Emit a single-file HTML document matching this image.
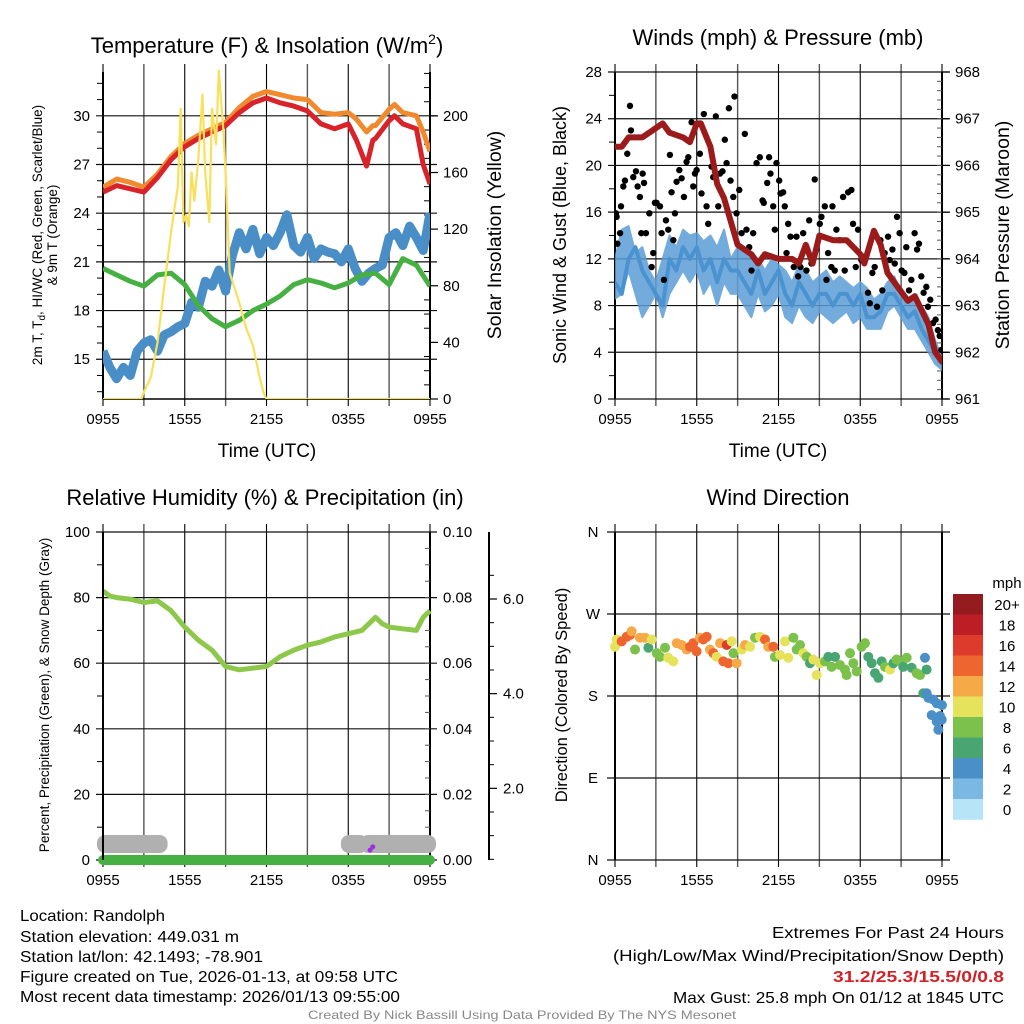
<!DOCTYPE html>
<html><head><meta charset="utf-8">
<style>
html,body{margin:0;padding:0;background:#fff;}
svg{display:block;font-family:"Liberation Sans",Arial,sans-serif;}
</style></head>
<body>
<svg id="root" width="1024" height="1024" viewBox="0 0 1024 1024" xmlns="http://www.w3.org/2000/svg"></svg>
<script>
// ---------- DATA ----------
const xTickLabels = ["0955","1555","2155","0355","0955"];
// Temperature panel
const tHalf = [];for(let i=0;i<=48;i++)tHalf.push(i/2);
const tHour = [];for(let i=0;i<=24;i++)tHour.push(i);
const redT = [0,1,2,3,4,5,6,7,8,9,10,11,12,13,14,15,16,17,18,18.6,19.35,19.8,20,21,21.4,22,23,23.5,24];
const temp2m = [25.3,25.7,25.5,25.3,26.2,27.3,28.1,28.6,29.0,29.4,30.2,30.8,31.1,30.8,30.6,30.3,29.5,29.2,29.5,28.5,26.9,28.5,28.6,29.7,30.0,29.5,29.2,27.0,25.8];
const temp9m = [25.6,26.1,25.9,25.6,26.4,27.5,28.3,28.8,29.2,29.6,30.5,31.2,31.5,31.3,31.1,31.0,30.2,30.1,30.2,29.8,29.0,29.4,29.4,30.4,30.7,30.2,30.0,29.0,27.8];
const dewpoint = [20.6,20.2,19.8,19.5,20.2,20.3,19.6,18.3,17.5,17.0,17.4,18.0,18.4,18.9,19.6,19.9,19.7,19.4,19.7,20.2,20.3,19.6,21.2,20.8,19.5];
const windChill = [15.5,14.5,13.8,14.5,14.0,15.5,16.0,16.2,15.5,16.5,16.7,17.0,17.2,18.5,18.2,19.8,19.5,20.5,19.2,21.4,22.8,21.8,23.0,21.5,22.5,22.0,22.8,23.9,22.0,21.6,22.5,21.2,21.8,21.6,21.5,21.0,21.8,20.6,19.8,20.3,20.6,20.8,22.5,22.8,22.0,23.2,22.5,21.7,24.0];
const solarT = [0,2.8,3,3.5,4,4.5,5,5.3,5.5,5.7,5.9,6.1,6.3,6.5,6.7,7.0,7.3,7.5,7.8,8.0,8.3,8.5,8.8,9.0,9.3,10,10.5,11,11.5,11.8,12,24];
const solarV = [0,0,5,15,40,80,118,138,150,205,125,130,122,160,140,170,215,160,125,205,180,232,195,160,89,68,50,38,15,4,0,0];
// Winds panel
const sonicWind = [10,9,12,13,11,10,9,8,12,11,13,12,13,11,12,10,12,11,11,10,9,11,9,10,11,9,8,10,9,8,9,9,8,9,9,8,9,7,7,7.5,9,9,8,7,7.5,6,5,4,3];
const sonicLow  = [8.6,9,11,9,7,8,9,7,9,10,11,10,11,9,10,8,10,9,9,8,7,9,7.5,8,9,7,6.5,8,7,6.5,7.5,7,6.5,7,7.5,6.5,7,6,6,6,7.5,8,7,6,6,5,4,3,2.5];
const sonicHigh = [12,14.5,14.8,12.5,13,11,10,12,14,13,14.5,14,14.2,13.5,14,13,14.5,12,13,13,12,12,11,12,11.5,11,10,11.5,11,10,10.5,11,10,10.5,10,9.5,10,9.5,8.5,9,10,10.5,9,8,9,8,7,5,3.5];
const pressT = [0,0.5,1,2,3,3.5,4,5,5.5,6,6.3,7,7.5,8,8.5,9,10,10.5,11,12,13,13.5,14,14.5,15,16,17,18,18.3,19,19.5,20,21,21.5,22,22.5,23,23.5,24];
const pressV = [966.4,966.4,966.6,966.6,966.8,966.9,966.7,966.6,966.5,966.9,966.9,966.4,965.6,965.3,964.8,964.3,964.1,963.9,964.1,964.0,964.0,963.9,964.3,963.9,964.5,964.4,964.4,964.1,963.9,964.6,964.3,963.7,963.3,963.1,963.2,962.9,962.6,962.0,961.8];
const gustT = [0.07,0.12,0.17,0.37,0.44,0.61,0.73,0.9,1.1,1.17,1.34,1.54,1.66,1.83,2.03,2.13,1.93,2.27,2.52,2.69,2.81,2.93,3.05,3.3,3.42,3.59,3.74,3.91,4.03,4.15,4.28,4.4,4.52,4.72,4.89,5.06,5.25,5.38,5.62,5.74,5.87,5.99,6.23,6.35,6.52,6.72,6.84,7.09,7.21,7.4,7.58,7.7,7.89,8.06,8.19,8.36,8.48,8.68,8.77,8.92,9.12,9.29,9.53,9.65,9.85,10.02,10.14,10.39,10.63,10.83,10.92,11.17,11.31,11.41,11.61,11.73,11.85,12.05,12.15,12.34,12.46,12.59,12.71,12.88,13.12,13.32,13.44,13.61,13.81,14.05,14.25,14.42,14.66,14.79,15.03,15.15,15.4,15.52,15.64,15.88,15.96,16.13,16.25,16.5,16.74,16.86,17.11,17.35,17.47,17.67,17.84,18.08,18.33,18.57,18.7,18.89,19.06,19.23,19.48,19.62,19.79,20.04,20.16,20.36,20.53,20.7,20.89,21.04,21.24,21.38,21.58,21.75,21.99,22.17,22.31,22.48,22.65,22.85,22.97,23.14,23.34,23.53,23.7,23.83,23.95];
const gustV = [15.9,15.6,13.3,14.2,16.5,18.2,18.7,21,25.1,23,19,19.5,18.2,17.3,19.3,18.5,14.2,14.2,15.9,11.3,12.5,16.8,16.8,16.5,14.2,10.2,15.3,14.5,20.9,17.7,13.6,15.9,18.6,19.6,18.9,17.3,20.3,20.7,23.7,18.2,19.3,19.6,21,17.6,24.4,16.5,15,19.9,19,24.2,16.5,19.3,19.5,22.2,20.2,24.9,18.7,17.3,25.9,15.9,17.9,14.2,22.7,14.5,13,11,14.2,20.2,20.7,17,16.8,18.5,20.7,19.3,16.5,14.5,20.2,18.7,17.6,17.7,16.5,12.5,15,13.9,11.3,13.9,10.5,11.3,14.2,11,15.3,11.6,18.8,12.8,15,15.6,16.5,10.2,12.5,11.3,16.5,11,14.5,13.6,17.3,11,17.7,17.9,15,11.3,14.5,11.9,12.2,9.1,8.2,10.8,11.3,7.9,13.6,9.3,12.5,13.9,11.9,12.8,11.6,15.6,14.2,11,10.8,13,9.3,10.2,14.2,12.8,13.3,10.5,9.1,9.6,7.9,8.5,6.5,6.8,5.9,5.4,4.2];
// RH panel
const rhT = [0,0.5,1,2,3,4,5,6,7,8,9,10,11,12,13,14,15,16,17,18,19,20,20.5,21,22,23,23.5,24];
const rhV = [82,80.5,80,79.5,78.5,79,76,71,67,64,59,58,58.5,59,62,64,65.5,66.5,68,69,70,74,72,71,70.5,70,74,76];
const snowSegStart = [0,17.9,19.3];
const snowSegEnd = [4.3,19.0,24];
const precipT = [19.6,19.8];
const precipV = [0.003,0.004];
// Wind direction panel
const dirT = [0,0.12,0.49,0.86,1.1,1.22,1.47,1.83,2.2,2.45,2.69,3.06,3.3,3.67,3.91,4.28,4.53,4.89,5.26,5.5,5.75,5.99,6.24,6.48,6.73,6.97,7.22,7.46,7.71,7.95,8.2,8.32,8.56,8.69,8.93,9.3,9.54,9.91,10.28,10.64,11.01,11.25,11.62,11.74,12.11,12.48,12.72,13.09,13.33,13.58,13.82,14.07,14.31,14.56,14.8,15.05,15.41,15.66,15.9,16.15,16.51,16.88,17.0,17.25,17.49,17.74,18.1,18.35,18.59,18.84,19.08,19.33,19.57,19.82,20.18,20.43,20.67,20.92,21.16,21.41,21.77,22.14,22.39,22.75,22.87,22.63,22.87,23.0,23.36,23.61,23.24,23.85,23.61,23.73,24,23.98];
const dirV = [234,242,240,245,247,251,231,244,244,233,242,227,223,233,222,218,238,236,231,234,238,229,244,242,245,231,227,223,238,218,236,216,240,227,216,231,236,234,244,245,242,234,234,223,225,240,222,244,231,236,227,223,216,220,203,216,218,223,212,223,214,209,203,227,216,207,234,238,223,216,205,200,218,212,209,216,220,218,212,222,211,205,203,222,209,183,183,178,176,172,159,158,152,143,170,154];
const dirSpd = [10,10,14,14,14,12,8,12,12,6,10,8,8,8,10,10,12,12,12,14,14,14,12,14,14,12,14,10,12,14,16,14,10,8,12,10,12,10,8,10,14,12,14,8,10,10,10,8,8,8,10,8,6,10,10,10,8,6,8,6,8,8,8,8,8,8,8,8,6,6,6,6,6,8,10,6,8,8,6,8,6,8,8,4,6,6,4,4,4,4,4,4,4,4,4,4];
const cbLabels = ["20+","18","16","14","12","10","8","6","4","2","0"];
const cbColors = ["#941b1e","#bd1e26","#dd3b2c","#ef6530","#f5a947","#e7e25b","#7bc14b","#49a672","#4a8fc7","#7bb8e3","#b8e4f8"];

// ---------- HELPERS ----------
const NS="http://www.w3.org/2000/svg";
const root=document.getElementById('root');
function el(tag,attrs,parent,text){const e=document.createElementNS(NS,tag);for(const k in attrs)e.setAttribute(k,attrs[k]);if(text!==undefined)e.textContent=text;(parent||root).appendChild(e);return e;}
function linScale(d0,d1,r0,r1){return v=>r0+(v-d0)*(r1-r0)/(d1-d0);}
function pathD(ts,vs,xs,ys){return ts.map((t,i)=>(i?'L':'M')+xs(t).toFixed(1)+','+ys(vs[i]).toFixed(1)).join(' ');}

function frame(g,x0,x1,y0,y1){
  const xs=linScale(0,24,x0,x1);
  for(let h=0;h<=24;h+=3){
    const x=xs(h);const major=(h%6===0);
    const l=el('line',{x1:x,x2:x,y1:y0-8,y2:y1+7,stroke:major?'#000':'#555','stroke-width':major?1.1:1.4},g);
    
    
  }
  for(let i=0;i<xTickLabels.length;i++){
    const t=el('text',{x:xs(i*6),y:y1+25,'font-size':15,'text-anchor':'middle'},g,xTickLabels[i]);
    
    
  }
  el('line',{x1:x0,x2:x0,y1:y0,y2:y1,stroke:'#000','stroke-width':2},g);
  el('line',{x1:x1,x2:x1,y1:y0,y2:y1,stroke:'#000','stroke-width':2},g);
  return xs;
}
function hgrid(g,x0,x1,y,len){el('line',{x1:x0-len,x2:x1+len,y1:y,y2:y,stroke:'#111','stroke-width':1.2},g);}
function txt(g,x,y,s,size,anchor,extra){const a={x:x,y:y,'font-size':size,'text-anchor':anchor||'middle'};if(extra)Object.assign(a,extra);return el('text',a,g,s);}

// ---------- PANEL 1: Temperature ----------
(function(){
  const g=el('g',{});
  const x0=103,x1=430,y0=72,y1=399;
  const ys=linScale(12.55,32.7,y1,y0), ysr=linScale(0,231,y1,y0);
  const xs=frame(g,x0,x1,y0,y1);
  [15,18,21,24,27,30].forEach(v=>{hgrid(g,x0,x1,ys(v),7);const t=txt(g,x0-13,ys(v)+5,String(v),15,'end');});
  for(let v=13;v<=32;v++){if(v%3)el('line',{x1:x0-6,x2:x0,y1:ys(v),y2:ys(v),stroke:'#000'},g);}
  [0,40,80,120,160,200].forEach(v=>{el('line',{x1:x1,x2:x1+8,y1:ysr(v),y2:ysr(v),stroke:'#000','stroke-width':1.2},g);const t=txt(g,x1+13,ysr(v)+5,String(v),15,'start');});
  for(let v=10;v<=230;v+=10){if(v%40)el('line',{x1:x1-6,x2:x1,y1:ysr(v),y2:ysr(v),stroke:'#000'},g);}
  el('line',{x1:x0,x2:x1,y1:y1,y2:y1,stroke:'#000','stroke-width':1.5},g);
  const clip=el('clipPath',{id:'c1'},g);el('rect',{x:x0,y:y0-3,width:x1-x0,height:y1-y0+3},clip);
  const pg=el('g',{'clip-path':'url(#c1)'},g);
  const s1=el('path',{d:pathD(tHalf,windChill,xs,ys),fill:'none',stroke:'#4a8ec8','stroke-width':9,'stroke-linejoin':'round'},pg);
  
  const s2=el('path',{d:pathD(tHour,dewpoint,xs,ys),fill:'none',stroke:'#47b042','stroke-width':5,'stroke-linejoin':'round'},pg);
  
  const s3=el('path',{d:pathD(redT,temp9m,xs,ys),fill:'none',stroke:'#f08a2d','stroke-width':5,'stroke-linejoin':'round'},pg);
  
  const s4=el('path',{d:pathD(redT,temp2m,xs,ys),fill:'none',stroke:'#d8232a','stroke-width':5,'stroke-linejoin':'round'},pg);
  
  const s5=el('path',{d:pathD(solarT,solarV,xs,ysr),fill:'none',stroke:'#f8e05a','stroke-width':2.2,'stroke-linejoin':'round'},pg);
  
  const t1=txt(g,267,53,'',22);t1.innerHTML='Temperature (F) &amp; Insolation (W/m<tspan dy="-9" font-size="14">2</tspan><tspan dy="9">)</tspan>';
  
  const xt=txt(g,267,457,'Time (UTC)',19);
  const yl=el('text',{transform:'translate(42,235) rotate(-90)','font-size':13.5,'text-anchor':'middle'},g);
  yl.innerHTML='2m T, T<tspan dy="3" font-size="10">d</tspan><tspan dy="-3">, HI/WC (Red, Green, Scarlet/Blue)</tspan>';
  
  const yl2=el('text',{transform:'translate(57,235) rotate(-90)','font-size':13.5,'text-anchor':'middle'},g,'& 9m T (Orange)');
  
  const yr=el('text',{transform:'translate(501,235) rotate(-90)','font-size':19.5,'text-anchor':'middle'},g,'Solar Insolation (Yellow)');
  
})();

// ---------- PANEL 2: Winds ----------
(function(){
  const g=el('g',{});
  const x0=615,x1=942,y0=72,y1=399;
  const ys=linScale(0,28,y1,y0), ysr=linScale(961,968,y1,y0);
  const xs=frame(g,x0,x1,y0,y1);
  [0,4,8,12,16,20,24,28].forEach(v=>{hgrid(g,x0,x1,ys(v),7);const t=txt(g,x0-13,ys(v)+5,String(v),15,'end');});
  for(let v=2;v<28;v+=4)el('line',{x1:x0-6,x2:x0,y1:ys(v),y2:ys(v),stroke:'#000'},g);
  for(let v=961;v<=968;v++){el('line',{x1:x1,x2:x1+8,y1:ysr(v),y2:ysr(v),stroke:'#000','stroke-width':1.2},g);const t=txt(g,x1+13,ysr(v)+5,String(v),15,'start');}
  for(let v=961.2;v<968;v+=0.2){el('line',{x1:x1-5,x2:x1,y1:ysr(v),y2:ysr(v),stroke:'#555'},g);}
  const clip=el('clipPath',{id:'c2'},g);el('rect',{x:x0,y:y0-3,width:x1-x0,height:y1-y0+3},clip);
  const pg=el('g',{'clip-path':'url(#c2)'},g);
  const bd=pathD(tHalf,sonicHigh,xs,ys)+' '+tHalf.slice().reverse().map((t,i)=>'L'+xs(t).toFixed(1)+','+ys(sonicLow[sonicLow.length-1-i]).toFixed(1)).join(' ')+'Z';
  const bb=el('path',{d:bd,fill:'#5b9dd6',opacity:0.85,stroke:'#5b9dd6','stroke-width':2,'stroke-linejoin':'round'},pg);
  const sw=el('path',{d:pathD(tHalf,sonicWind,xs,ys),fill:'none',stroke:'#4a93d0','stroke-width':4,'stroke-linejoin':'round'},pg);
  
  gustT.forEach((t,i)=>{const c=el('circle',{cx:xs(t),cy:ys(gustV[i]),r:3.2,fill:'#000'},pg);
    });
  const pl=el('path',{d:pathD(pressT,pressV,xs,ysr),fill:'none',stroke:'#9b1b1b','stroke-width':6,'stroke-linejoin':'round','stroke-linecap':'round'},pg);
  
  const t1=txt(g,778,45,'Winds (mph) & Pressure (mb)',22);
  const xt=txt(g,778,457,'Time (UTC)',19);
  const yl=el('text',{transform:'translate(566,235) rotate(-90)','font-size':18,'text-anchor':'middle'},g,'Sonic Wind & Gust (Blue, Black)');
  
  const yr=el('text',{transform:'translate(1009,235) rotate(-90)','font-size':19.5,'text-anchor':'middle'},g,'Station Pressure (Maroon)');
  
})();

// ---------- PANEL 3: RH ----------
(function(){
  const g=el('g',{});
  const x0=103,x1=430,y0=532,y1=860;
  const ys=linScale(0,100,y1,y0), ysr=linScale(0,0.1,y1,y0), ys3=linScale(0,6,883,599);
  const xs=frame(g,x0,x1,y0,y1);
  [0,20,40,60,80,100].forEach(v=>{hgrid(g,x0,x1,ys(v),7);const t=txt(g,x0-13,ys(v)+5,String(v),15,'end');});
  for(let v=10;v<100;v+=20)el('line',{x1:x0-6,x2:x0,y1:ys(v),y2:ys(v),stroke:'#000'},g);
  for(let i=0;i<=5;i++){const v=i*0.02;const t=txt(g,x1+13,ysr(v)+5,v.toFixed(2),15,'start');}
  for(let v=0.005;v<0.1;v+=0.005){el('line',{x1:x1-5,x2:x1,y1:ysr(v),y2:ysr(v),stroke:'#555'},g);}
  el('line',{x1:489,x2:489,y1:y0,y2:y1,stroke:'#000','stroke-width':2},g);
  [2,4,6].forEach(v=>{el('line',{x1:489,x2:497,y1:ys3(v),y2:ys3(v),stroke:'#000','stroke-width':1.2},g);const t=txt(g,503,ys3(v)+5,v.toFixed(1),15,'start');});
  for(let v=0.5;v<6.9;v+=0.5){if(v%2)el('line',{x1:489,x2:494,y1:ys3(v),y2:ys3(v),stroke:'#000'},g);}
  snowSegStart.forEach((s,i)=>{const r=el('rect',{x:xs(s)-6,y:ys(5.5)-7,width:xs(snowSegEnd[i])-xs(s)+12,height:18,rx:8,fill:'#b0b0b0'},g);
    });
  const pb=el('rect',{x:x0-5,y:ys(0)-5,width:x1-x0+10,height:10,rx:5,fill:'#47b042'},g);
  
  precipT.forEach((t,i)=>{const c=el('circle',{cx:xs(t),cy:ysr(precipV[i]),r:2.5,fill:'#9b30e0'},g);});
  const rl=el('path',{d:pathD(rhT,rhV,xs,ys),fill:'none',stroke:'#8dc84b','stroke-width':5,'stroke-linejoin':'round'},g);
  
  el('line',{x1:x0,x2:x0,y1:y0,y2:y1,stroke:'#000','stroke-width':2},g);
  const t1=txt(g,265,505,'Relative Humidity (%) & Precipitation (in)',22);
  const yl=el('text',{transform:'translate(49,695) rotate(-90)','font-size':13.5,'text-anchor':'middle'},g,'Percent, Precipitation (Green), & Snow Depth (Gray)');
  
})();

// ---------- PANEL 4: Wind Direction ----------
(function(){
  const g=el('g',{});
  const x0=615,x1=942,y0=532,y1=860;
  const ys=linScale(0,360,y1,y0);
  const xs=frame(g,x0,x1,y0,y1);
  ["N","E","S","W","N"].forEach((s,i)=>{hgrid(g,x0,x1,ys(i*90),8);const t=txt(g,x0-22,ys(i*90)+5,s,15,'middle');});
  const colorFor=s=>cbColors[10-Math.min(10,Math.floor(s/2))];
  dirT.forEach((t,i)=>{const c=el('circle',{cx:xs(t),cy:ys(dirV[i]),r:5,fill:colorFor(dirSpd[i])},g);
    });
  const t1=txt(g,778,505,'Wind Direction',22);
  const yl=el('text',{transform:'translate(567,695) rotate(-90)','font-size':16.5,'text-anchor':'middle'},g,'Direction (Colored By Speed)');
  
  const cb=el('g',{},g);
  const lt=txt(cb,1007,588,'mph',15);
  cbLabels.forEach((s,i)=>{const r=el('rect',{x:953,y:594+i*20.5,width:30,height:20.8,fill:cbColors[i]},cb);
    
    const t=txt(cb,1007,594+i*20.5+16,s,15);});
})();

// ---------- FOOTER ----------
(function(){
  const g=el('g',{'font-family':'"Liberation Sans Narrow","Liberation Sans",sans-serif'});
  const L=[["Location: Randolph",921,145],["Station elevation: 449.031 m",942,219],["Station lat/lon: 42.1493; -78.901",962,243],["Figure created on Tue, 2026-01-13, at 09:58 UTC",982,378],["Most recent data timestamp: 2026/01/13 09:55:00",1002,380]];
  L.forEach(a=>{const t=el('text',{x:20,y:a[1],'font-size':16,textLength:a[2],lengthAdjust:'spacingAndGlyphs'},g,a[0]);});
  const R=[["Extremes For Past 24 Hours",938,232,'#000','normal'],["(High/Low/Max Wind/Precipitation/Snow Depth)",961,391,'#000','normal'],["31.2/25.3/15.5/0/0.8",982,171,'#d42027','bold'],["Max Gust: 25.8 mph On 01/12 at 1845 UTC",1003,331,'#000','normal']];
  R.forEach(a=>{const t=el('text',{x:1004-a[2],y:a[1],'font-size':16,fill:a[3],'font-weight':a[4],textLength:a[2],lengthAdjust:'spacingAndGlyphs'},g,a[0]);});
  const c=el('text',{x:308,y:1019,'font-size':12,fill:'#888',textLength:428,lengthAdjust:'spacingAndGlyphs'},g,'Created By Nick Bassill Using Data Provided By The NYS Mesonet');
  
})();
</script>
</body></html>
